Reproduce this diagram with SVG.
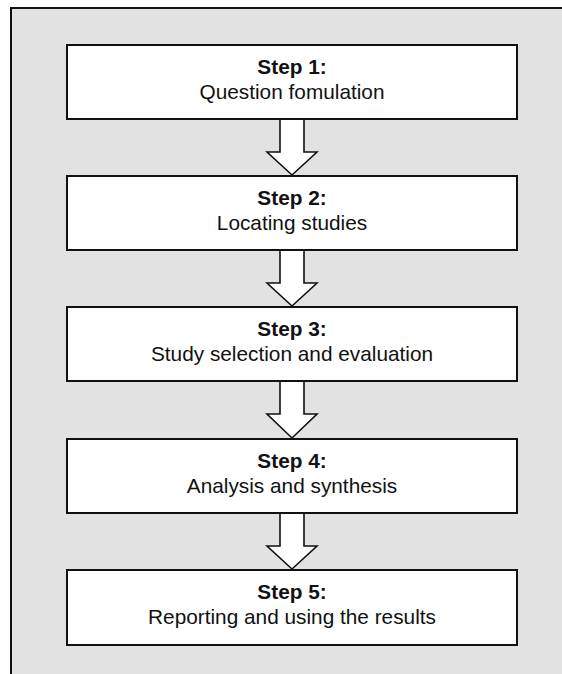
<svg xmlns="http://www.w3.org/2000/svg" width="562" height="674" viewBox="0 0 562 674">
  <style>
    .panel { fill: #e2e2e2; stroke: #111; stroke-width: 2; }
    .box { fill: #ffffff; stroke: #111; stroke-width: 2; }
    .arrow { fill: #ffffff; stroke: #111; stroke-width: 1.6; stroke-linejoin: miter; }
    .title { font-family: "Liberation Sans", Arial, sans-serif; font-size: 20.8px; font-weight: bold; fill: #111; text-anchor: middle; }
    .label { font-family: "Liberation Sans", Arial, sans-serif; font-size: 20.8px; fill: #111; text-anchor: middle; }
  </style>

  <!-- background panel (runs off the right and bottom edges) -->
  <rect class="panel" x="11" y="8" width="600" height="720"/>

  <!-- block arrows between steps -->
  <g id="connectors">
    <path class="arrow" d="M280 120 V152 H267 L292 175 L317 152 H304 V120"/>
    <path class="arrow" d="M280 251 V283 H267 L292 306 L317 283 H304 V251"/>
    <path class="arrow" d="M280 382 V414 H267 L292 438 L317 414 H304 V382"/>
    <path class="arrow" d="M280 514 V546 H267 L292 569 L317 546 H304 V514"/>
  </g>

  <g id="step1">
    <rect class="box" x="67" y="45" width="450" height="74"/>
    <text class="title" x="292" y="74">Step 1:</text>
    <text class="label" x="292" y="99">Question fomulation</text>
  </g>

  <g id="step2">
    <rect class="box" x="67" y="176" width="450" height="74"/>
    <text class="title" x="292" y="205">Step 2:</text>
    <text class="label" x="292" y="230">Locating studies</text>
  </g>

  <g id="step3">
    <rect class="box" x="67" y="307" width="450" height="74"/>
    <text class="title" x="292" y="336">Step 3:</text>
    <text class="label" x="292" y="361">Study selection and evaluation</text>
  </g>

  <g id="step4">
    <rect class="box" x="67" y="439" width="450" height="74"/>
    <text class="title" x="292" y="468">Step 4:</text>
    <text class="label" x="292" y="493">Analysis and synthesis</text>
  </g>

  <g id="step5">
    <rect class="box" x="67" y="570" width="450" height="75"/>
    <text class="title" x="292" y="599">Step 5:</text>
    <text class="label" x="292" y="624">Reporting and using the results</text>
  </g>
</svg>
